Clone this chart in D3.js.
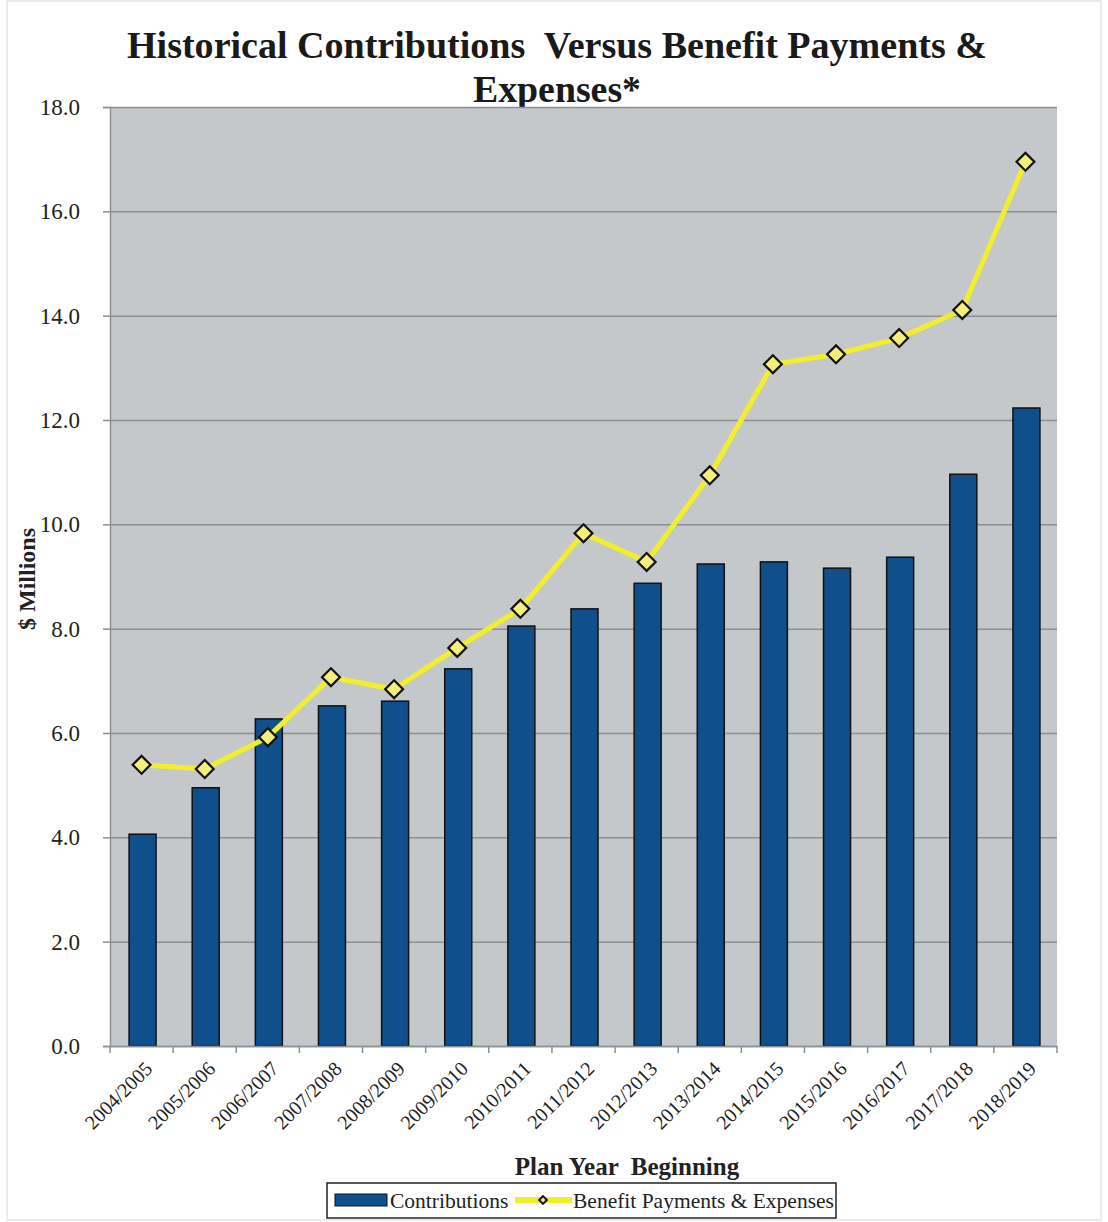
<!DOCTYPE html>
<html>
<head>
<meta charset="utf-8">
<script src="https://cdn.jsdelivr.net/npm/d3@7"></script>
<style>
  body { margin: 0; background: #fff; }
  svg { display: block; font-family: "Liberation Serif", "DejaVu Serif", serif; }
</style>
</head>
<body>
<svg id="chart" width="1108" height="1222"></svg>
<script>
// plan years (x categories)
const planYears = ["2004/2005", "2005/2006", "2006/2007", "2007/2008", "2008/2009",
                   "2009/2010", "2010/2011", "2011/2012", "2012/2013", "2013/2014",
                   "2014/2015", "2015/2016", "2016/2017", "2017/2018", "2018/2019"];

// $ millions
const contributions = [4.06, 4.95, 6.27, 6.52, 6.61, 7.23, 8.05, 8.38, 8.87, 9.24,
                       9.28, 9.16, 9.37, 10.96, 12.23];
const benefitPayments = [5.39, 5.31, 5.92, 7.07, 6.84, 7.63, 8.38, 9.83, 9.28, 10.94,
                         13.07, 13.26, 13.57, 14.11, 16.95];

const yTicks = [0, 2, 4, 6, 8, 10, 12, 14, 16, 18];

const titleLines = ["Historical Contributions  Versus Benefit Payments &", "Expenses*"];
const seriesNames = ["Contributions", "Benefit Payments & Expenses"];

function drawChart() {

  // plot area in page pixels
  let margin = {top: 107, right: 51, bottom: 176, left: 110},
      width = 1108 - margin.left - margin.right,
      height = 1222 - margin.top - margin.bottom;

  let svg = d3.select("#chart");

  // faint frame of the scanned page
  svg.append("rect")
      .attr("x", 7).attr("y", 1)
      .attr("width", 1094).attr("height", 1219)
      .attr("fill", "none")
      .attr("stroke", "#d8d8d8")
      .attr("stroke-width", 1);

  // title (condensed look of the scan: stretch to its measured widths)
  let titleWidths = [860, 168];
  svg.append("text")
      .attr("text-anchor", "middle")
      .attr("font-weight", "bold")
      .attr("font-size", "37px")
      .attr("fill", "#1a1a1a")
      .selectAll("tspan")
      .data(titleLines)
      .join("tspan")
      .attr("x", 557)
      .attr("y", (d, i) => 58 + i * 44)
      .attr("xml:space", "preserve")
      .attr("textLength", (d, i) => titleWidths[i])
      .attr("lengthAdjust", "spacingAndGlyphs")
      .text(d => d);

  let g = svg.append("g")
      .attr("transform", "translate(" + margin.left + "," + margin.top + ")");

  let x = d3.scaleBand()
      .domain(planYears)
      .range([0, width])
      .paddingInner(0)
      .paddingOuter(0);

  let y = d3.scaleLinear()
      .domain([0, 18])
      .range([height, 0]);

  // plot background
  g.append("rect")
      .attr("width", width)
      .attr("height", height)
      .attr("fill", "#c5c8cb");

  // grid lines
  g.append("g")
      .attr("class", "grid")
      .call(d3.axisLeft(y).tickValues(yTicks).tickSize(-width).tickFormat(""))
      .call(s => s.select(".domain").remove())
      .call(s => s.selectAll("line").attr("stroke", "#8c8f93").attr("stroke-width", 1.5));

  // bars
  let barW = 27;
  g.selectAll("rect.bar")
      .data(contributions)
      .join("rect")
      .attr("class", "bar")
      .attr("x", (d, i) => x(planYears[i]) + x.bandwidth() / 2 - barW / 2 + 1)
      .attr("y", d => y(d))
      .attr("width", barW)
      .attr("height", d => height - y(d))
      .attr("fill", "#0f4f8c")
      .attr("stroke", "#111")
      .attr("stroke-width", 1.5);

  // y axis
  g.append("g")
      .call(d3.axisLeft(y).tickValues(yTicks).tickSize(7).tickPadding(23).tickFormat(d3.format(".1f")))
      .call(s => s.select(".domain").attr("stroke", "#8c8f93").attr("stroke-width", 1.5))
      .call(s => s.selectAll(".tick line").attr("stroke", "#8c8f93").attr("stroke-width", 1.5))
      .call(s => s.selectAll("text")
                  .attr("font-family", "Liberation Serif")
                  .attr("font-size", "23px")
                  .attr("fill", "#222"));

  // x axis
  g.append("g")
      .attr("transform", "translate(0," + height + ")")
      .call(d3.axisBottom(x).tickSize(0).tickPadding(0))
      .call(s => s.select(".domain").attr("stroke", "#8c8f93").attr("stroke-width", 1.5))
      .call(s => s.selectAll("text")
                  .attr("font-family", "Liberation Serif")
                  .attr("font-size", "20px")
                  .attr("fill", "#222")
                  .attr("text-anchor", "end")
                  .attr("dy", "0")
                  .attr("transform", "translate(12,24) rotate(-45)"));

  // x tick marks on the band edges
  g.append("g")
      .selectAll("line")
      .data(d3.range(planYears.length + 1))
      .join("line")
      .attr("x1", i => i * x.step())
      .attr("x2", i => i * x.step())
      .attr("y1", height)
      .attr("y2", height + 7)
      .attr("stroke", "#8c8f93")
      .attr("stroke-width", 1.5);

  // benefit payments line
  let lineGen = d3.line()
      .x((d, i) => x(planYears[i]) + x.bandwidth() / 2)
      .y(d => y(d));

  g.append("path")
      .datum(benefitPayments)
      .attr("fill", "none")
      .attr("stroke", "#f2ee2c")
      .attr("stroke-width", 5)
      .attr("stroke-linejoin", "round")
      .attr("d", lineGen);

  let diamond = d3.symbol().type(d3.symbolSquare).size(160);
  g.selectAll("path.marker")
      .data(benefitPayments)
      .join("path")
      .attr("class", "marker")
      .attr("d", diamond)
      .attr("transform", (d, i) => "translate(" + (x(planYears[i]) + x.bandwidth() / 2) + "," + y(d) + ") rotate(45)")
      .attr("fill", "#f4ef78")
      .attr("stroke", "#111")
      .attr("stroke-width", 2.2);

  // y axis title
  svg.append("text")
      .attr("transform", "translate(35,579) rotate(-90)")
      .attr("text-anchor", "middle")
      .attr("font-weight", "bold")
      .attr("font-size", "24px")
      .attr("fill", "#222")
      .text("$ Millions");

  // x axis title
  svg.append("text")
      .attr("x", 627)
      .attr("y", 1175)
      .attr("text-anchor", "middle")
      .attr("font-weight", "bold")
      .attr("font-size", "25px")
      .attr("fill", "#222")
      .attr("xml:space", "preserve")
      .text("Plan Year  Beginning");

  // legend
  let legend = svg.append("g").attr("transform", "translate(327,1183)");
  legend.append("rect")
      .attr("width", 509).attr("height", 35)
      .attr("fill", "#fff")
      .attr("stroke", "#222")
      .attr("stroke-width", 1.5);
  legend.append("rect")
      .attr("x", 8).attr("y", 11)
      .attr("width", 52).attr("height", 12)
      .attr("fill", "#0f4f8c")
      .attr("stroke", "#111")
      .attr("stroke-width", 1);
  legend.append("text")
      .attr("x", 63).attr("y", 25)
      .attr("font-size", "21.5px")
      .attr("fill", "#222")
      .text(seriesNames[0]);
  legend.append("line")
      .attr("x1", 188).attr("x2", 245)
      .attr("y1", 17).attr("y2", 17)
      .attr("stroke", "#f2ee2c")
      .attr("stroke-width", 6);
  legend.append("path")
      .attr("d", d3.symbol().type(d3.symbolSquare).size(30))
      .attr("transform", "translate(216,17) rotate(45)")
      .attr("fill", "#f4ef78")
      .attr("stroke", "#111")
      .attr("stroke-width", 2);
  legend.append("text")
      .attr("x", 246).attr("y", 25)
      .attr("font-size", "21.5px")
      .attr("fill", "#222")
      .text(seriesNames[1]);

} // end of drawChart

drawChart();
</script>
</body>
</html>
